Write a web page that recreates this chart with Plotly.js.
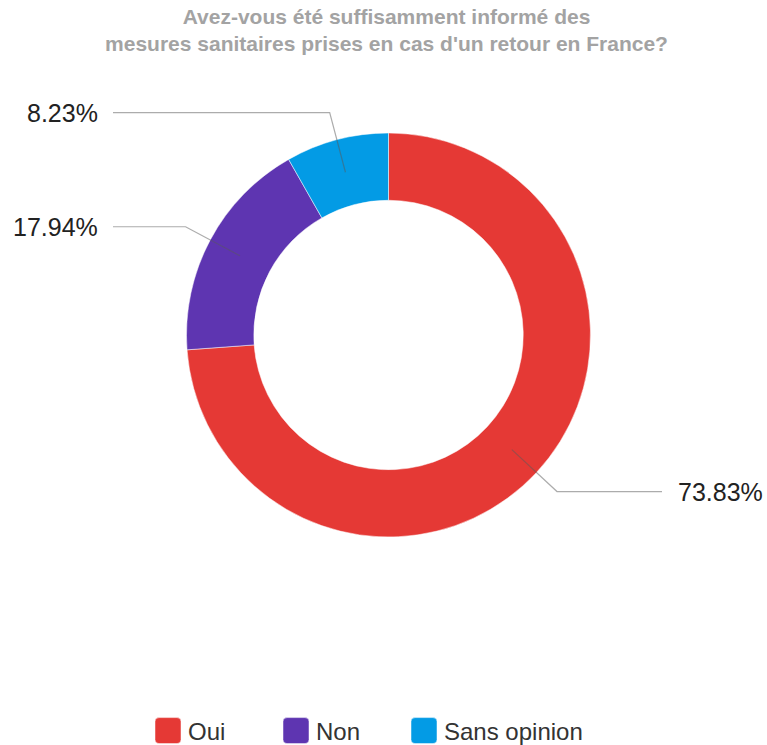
<!DOCTYPE html>
<html>
<head>
<meta charset="utf-8">
<script src="https://cdn.plot.ly/plotly-3.0.1.min.js"></script>
<style>html,body{margin:0;padding:0;background:#fff;}#chart{width:767px;height:745px;}</style>
</head>
<body>
<div id="chart"></div>
<script>
// ---- data ----
const categories = ["Oui", "Non", "Sans opinion"];
const values = [73.83, 17.94, 8.23];
const colors = ["#e53935", "#5e35b1", "#039be5"];
const titleLines = ["Avez-vous été suffisamment informé des", "mesures sanitaires prises en cas d'un retour en France?"];

// ---- layout geometry ----
const W = 767, H = 745;
const cx = 388.5, cy = 335, R = 202, hole = 0.667;
const px = x => x / W;
const py = y => 1 - y / H;

const total = values.reduce((a, b) => a + b, 0);
const shapes = [], annotations = [];
let cum = 0;
values.forEach((v, i) => {
  const th = 2 * Math.PI * (cum + v / 2) / total;
  cum += v;
  const r1 = R * (1 + hole) / 2, r2 = 230;
  const x1 = cx + r1 * Math.sin(th), y1 = cy - r1 * Math.cos(th);
  const x2 = cx + r2 * Math.sin(th), y2 = cy - r2 * Math.cos(th);
  const left = x2 < cx;
  const x3 = left ? 113 : 662;
  shapes.push({
    type: "path", xref: "paper", yref: "paper",
    path: `M${px(x1)},${py(y1)} L${px(x2)},${py(y2)} L${px(x3)},${py(y2)}`,
    line: { color: "rgba(90,90,90,0.5)", width: 1.2 }
  });
  annotations.push({
    xref: "paper", yref: "paper", x: px(left ? 100 : 676), y: py(y2),
    xanchor: left ? "right" : "left", yanchor: "middle",
    text: v.toFixed(2) + "%", showarrow: false,
    font: { family: "Liberation Sans, Arial, sans-serif", size: 25, color: "#222" }
  });
});

const data = [{
  type: "pie",
  labels: categories,
  values: values,
  marker: { colors: colors, line: { color: "#ffffff", width: 0.5 } },
  hole: hole,
  sort: false,
  direction: "clockwise",
  rotation: 0,
  textinfo: "none",
  hoverinfo: "none",
  domain: { x: [px(cx - R), px(cx + R)], y: [py(cy + R), py(cy - R)] }
}];

const layout = {
  width: W, height: H,
  margin: { l: 0, r: 0, t: 0, b: 0, autoexpand: false },
  paper_bgcolor: "#fff",
  title: {
    text: titleLines.join("<br>"),
    x: 0.5 + 3 / W, xanchor: "center", xref: "paper",
    y: 1 - 24 / H, yanchor: "top", yref: "container",
    font: { family: "Liberation Sans, Arial, sans-serif", size: 21, color: "#a3a3a3", weight: "bold" }
  },
  showlegend: true,
  legend: {
    orientation: "h", x: px(148), xanchor: "left", y: py(731), yanchor: "middle",
    font: { family: "Liberation Sans, Arial, sans-serif", size: 24, color: "#333" },
    entrywidth: 83, bgcolor: "rgba(0,0,0,0)", traceorder: "normal"
  },
  shapes: shapes,
  annotations: annotations
};

Plotly.newPlot("chart", data, layout, { staticPlot: true }).then(gd => {
  const d = "M-9,-13H9A4,4 0 0 1 13,-9V9A4,4 0 0 1 9,13H-9A4,4 0 0 1 -13,9V-9A4,4 0 0 1 -9,-13Z";
  gd.querySelectorAll("path.legendpie").forEach(p => p.setAttribute("d", d));
  gd.querySelectorAll(".legend [clip-path]").forEach(el => el.removeAttribute("clip-path"));
  gd.querySelectorAll(".legend").forEach(el => el.removeAttribute("clip-path"));
});
</script>
</body>
</html>
